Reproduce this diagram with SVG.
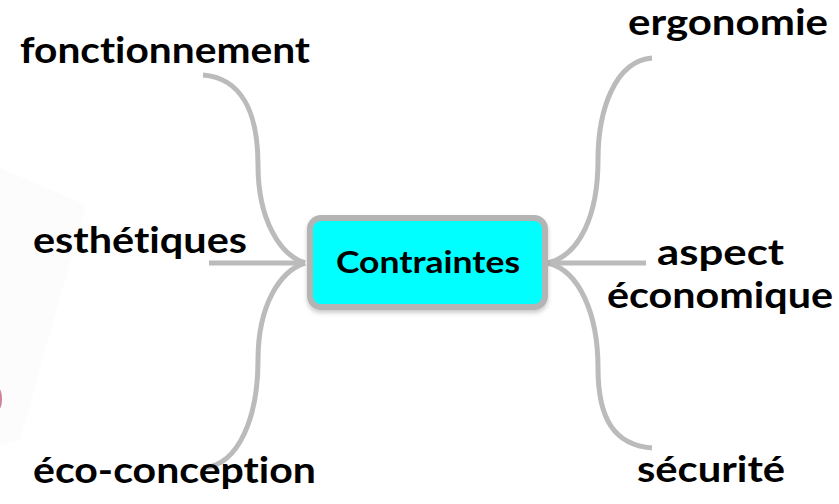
<svg xmlns="http://www.w3.org/2000/svg" width="839" height="504" viewBox="0 0 839 504">
<defs>
<style>
.lbl{font-family:Lato,"Noto Sans","DejaVu Sans",sans-serif;font-weight:bold;font-size:36px;fill:#000;font-variant-ligatures:none}
.ctr{font-family:Lato,"Noto Sans","DejaVu Sans",sans-serif;font-weight:bold;font-size:30px;fill:#000;font-variant-ligatures:none}
.conn{fill:none;stroke:#bbbbbb;stroke-width:5;stroke-linecap:butt}
</style>
<filter id="sh" x="-10%" y="-10%" width="120%" height="130%">
<feDropShadow dx="0" dy="3" stdDeviation="2" flood-color="#000" flood-opacity="0.2"/>
</filter>
</defs>
<rect width="839" height="504" fill="#fff"/>
<polygon points="0,168 86,205 20,440 0,445" fill="#fcfcfc"/>
<ellipse cx="-1" cy="399" rx="3" ry="10" fill="#b03050" opacity="0.6"/>
<g id="connectors">
<path class="conn" d="M203,75 C240,78 258,110 258,165 C258,220 280,255 305,263"/>
<path class="conn" d="M209,263 L305,263"/>
<path class="conn" d="M305,263 C280,271 258,305 258,360 C258,415 240,465 203,468"/>
<path class="conn" d="M652,58 C615,61 598,110 598,160 C598,215 580,255 548,263"/>
<path class="conn" d="M548,263 L646,263"/>
<path class="conn" d="M548,263 C580,271 598,315 598,368 C598,420 615,445 652,448"/>
</g>
<g id="center">
<rect x="310" y="218" width="235" height="89" rx="11" fill="#00ffff" stroke="#b4b4b4" stroke-width="6" filter="url(#sh)"/>
<text class="ctr" x="336" y="273" textLength="184" lengthAdjust="spacingAndGlyphs">Contraintes</text>
</g>
<g id="fonctionnement"><text class="lbl" x="20" y="63" textLength="290" lengthAdjust="spacingAndGlyphs">fonctionnement</text></g>
<g id="esthetiques"><text class="lbl" x="33" y="253" textLength="214" lengthAdjust="spacingAndGlyphs">esthétiques</text></g>
<g id="eco-conception"><text class="lbl" x="33" y="483" textLength="283" lengthAdjust="spacingAndGlyphs">éco-conception</text></g>
<g id="ergonomie"><text class="lbl" x="628" y="35" font-size="34" textLength="200" lengthAdjust="spacingAndGlyphs">ergonomie</text></g>
<g id="aspect-economique">
<text class="lbl" x="657" y="265" textLength="127" lengthAdjust="spacingAndGlyphs">aspect</text>
<text class="lbl" x="607" y="308" textLength="226" lengthAdjust="spacingAndGlyphs">économique</text>
</g>
<g id="securite"><text class="lbl" x="637" y="482" textLength="148" lengthAdjust="spacingAndGlyphs">sécurité</text></g>
</svg>
